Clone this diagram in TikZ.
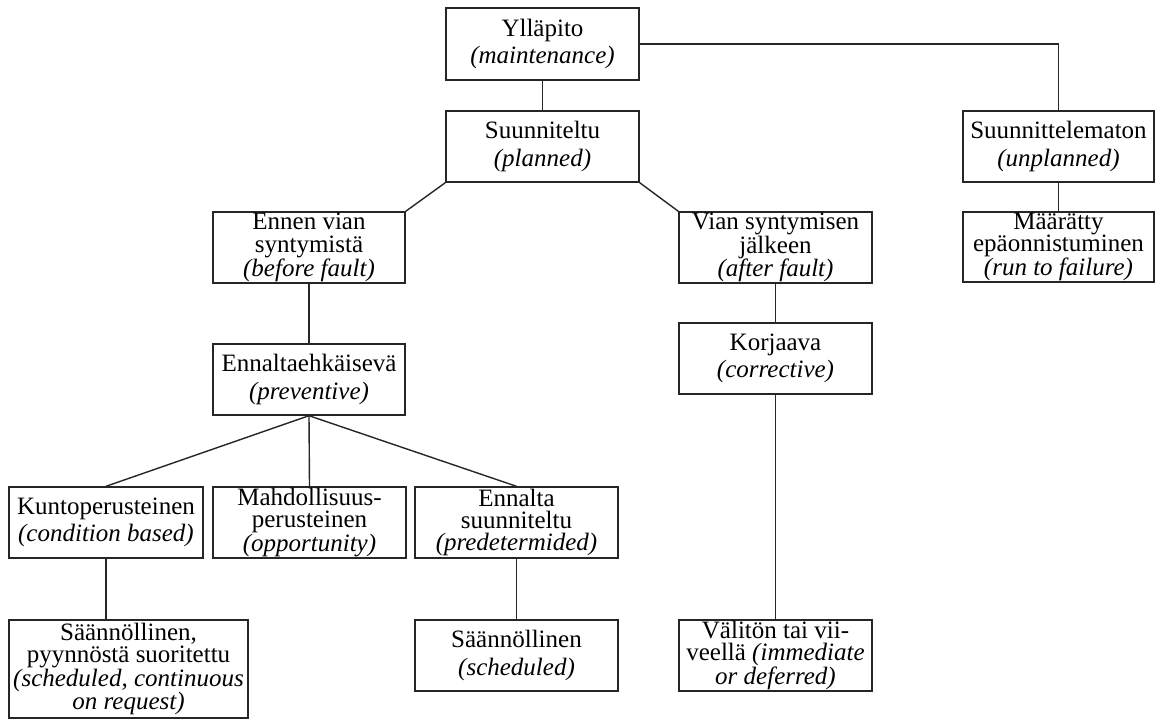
\documentclass[tikz,border=0pt]{standalone}
\usepackage{fontspec}
\setmainfont{Liberation Serif}
\usetikzlibrary{calc}

\tikzset{
  box/.style={draw=black!85, line width=1.4pt, inner sep=0pt, align=center,
              font=\fontsize{25}{27.5}\selectfont},
  tight/.style={font=\fontsize{25}{22.4}\selectfont},
  link/.style={draw=black!85, line width=1.4pt},
}

% \placebox[options]{name}{x1}{y1}{x2}{y2}{text}: box given by its corners (px, y downwards)
\newcommand{\placebox}[7][]{%
  \node[box,#1, minimum width={(#5-#3)*1pt}, minimum height={(#6-#4)*1pt}]
    (#2) at ({(#3+#5)/2},{(#4+#6)/2}) {#7};%
}

\begin{document}
\begin{tikzpicture}[x=1pt,y=-1pt]
  \useasboundingbox (0,0) rectangle (1155,720);

  % top level
  \placebox{yllapito}{446}{8}{639}{80}{Ylläpito\\\textit{(maintenance)}}
  \placebox{suunniteltu}{446}{111}{639}{182}{Suunniteltu\\\textit{(planned)}}
  \placebox{suunnittelematon}{963}{111}{1154}{182}{Suunnittelematon\\\textit{(unplanned)}}
  \placebox[tight]{maaratty}{963}{212}{1154}{282}{Määrätty\\epäonnistuminen\\\textit{(run to failure)}}

  % planned branch
  \placebox[tight]{ennen}{213}{212}{405}{283}{Ennen vian\\syntymistä\\\textit{(before fault)}}
  \placebox[tight]{vian}{679}{212}{872}{283}{Vian syntymisen\\jälkeen\\\textit{(after fault)}}
  \placebox{ehkaiseva}{213}{344}{405}{415}{Ennaltaehkäisevä\\\textit{(preventive)}}
  \placebox{korjaava}{679}{323}{872}{394}{Korjaava\\\textit{(corrective)}}

  % preventive sub-types
  \placebox{kunto}{9}{487}{203}{558}{Kuntoperusteinen\\\textit{(condition based)}}
  \placebox[tight]{mahd}{213}{487}{406}{558}{Mahdollisuus-\\perusteinen\\\textit{(opportunity)}}
  \placebox[tight]{ennalta}{415}{487}{618}{558}{Ennalta\\suunniteltu\\\textit{(predetermided)}}

  % bottom row
  \placebox[tight]{pyynnosta}{9}{620}{248}{718}{Säännöllinen,\\pyynnöstä suoritettu\\\textit{(scheduled, continuous}\\\textit{on request)}}
  \placebox{saannollinen}{415}{620}{618}{691}{Säännöllinen\\\textit{(scheduled)}}
  \placebox[tight]{valiton}{679}{620}{872}{691}{Välitön tai vii-\\veellä \textit{(immediate}\\\textit{or deferred)}}

  % connectors
  \draw[link] (yllapito.south) -- (suunniteltu.north);
  \draw[link] (yllapito.east) -| (suunnittelematon.north);
  \draw[link] (suunnittelematon.south) -- (maaratty.north);
  \draw[link] (suunniteltu.south west) -- (ennen.north east);
  \draw[link] (suunniteltu.south east) -- (vian.north west);
  \draw[link] (ennen.south) -- (ehkaiseva.north);
  \draw[link] (vian.south) -- (korjaava.north);
  \draw[link] (korjaava.south) -- (valiton.north);
  \draw[link] (ehkaiseva.south) -- (kunto.north);
  \draw[link] (ehkaiseva.south) -- (mahd.north);
  \draw[link] (ehkaiseva.south) -- (ennalta.north);
  \draw[link] (kunto.south) -- (kunto.south |- pyynnosta.north);
  \draw[link] (ennalta.south) -- (saannollinen.north);
\end{tikzpicture}
\end{document}
